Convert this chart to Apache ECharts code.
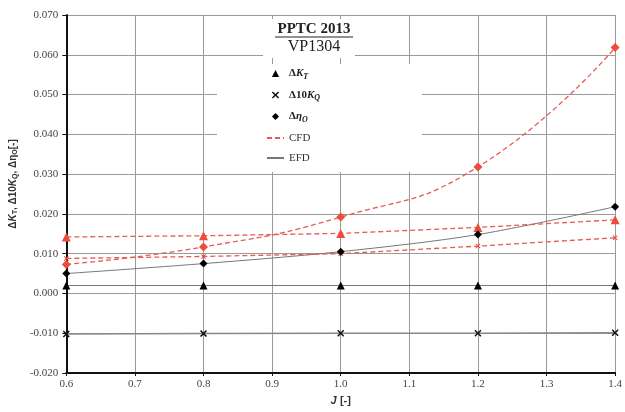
<!DOCTYPE html>
<html>
<head>
<meta charset="utf-8">
<script src="https://cdn.jsdelivr.net/npm/echarts@6/dist/echarts.min.js"></script>
<style>html,body{margin:0;padding:0;background:#fff}#c{width:625px;height:412px}</style>
</head>
<body>
<div id="c"></div>
<script>
// ---- data ----
var J = [0.6, 0.8, 1.0, 1.2, 1.4];
var efdKT  = [0.0020, 0.0020, 0.0020, 0.0020, 0.0020];
var efdKQ  = [-0.0102, -0.0101, -0.0100, -0.0100, -0.0099];
var efdEta = [0.0050, 0.0075, 0.0105, 0.0148, 0.0218];
var cfdKT  = [0.0142, 0.0145, 0.0151, 0.0166, 0.0185];
var cfdKQ  = [0.0088, 0.0093, 0.0100, 0.0119, 0.0140];
var cfdEta = [0.0073, 0.0117, 0.0192, 0.0318, 0.0618];
var xTicks = [0.6, 0.7, 0.8, 0.9, 1.0, 1.1, 1.2, 1.3, 1.4];
var yTicks = [-0.020, -0.010, 0.000, 0.010, 0.020, 0.030, 0.040, 0.050, 0.060, 0.070];
var legendNames = ['ΔKT', 'Δ10KQ', 'Δη0', 'CFD', 'EFD'];

function pairs(ys) { return J.map(function (x, i) { return [x, ys[i]]; }); }

var RED = '#ee4b3b';
var REDLINE = '#e85a55';
var XSYM = 'path://M0,1.5 L1.5,0 L5,3.5 L8.5,0 L10,1.5 L6.5,5 L10,8.5 L8.5,10 L5,6.5 L1.5,10 L0,8.5 L3.5,5 Z';

var chart = echarts.init(document.getElementById('c'), null, {renderer: 'canvas'});

var serif = '"Liberation Serif", "DejaVu Serif", serif';
var sans = '"Liberation Sans", Arial, sans-serif';

var richLegend = {
  n: {fontFamily: serif, fontWeight: 'bold', fontSize: 11, color: '#222'},
  i: {fontFamily: serif, fontWeight: 'bold', fontStyle: 'italic', fontSize: 11, color: '#222'},
  s: {fontFamily: serif, fontWeight: 'bold', fontStyle: 'italic', fontSize: 8, color: '#222', padding: [6, 0, 0, 0]},
  r: {fontFamily: serif, fontSize: 11, color: '#333'}
};
var legendFmt = {
  'ΔKT': '{n|Δ}{i|K}{s|T}',
  'Δ10KQ': '{n|Δ10}{i|K}{s|Q}',
  'Δη0': '{n|Δ}{i|η}{s|O}',
  'CFD': '{r|CFD}',
  'EFD': '{r|EFD}'
};

function markerSeries(name, ys, symbol, size, color) {
  return {name: name, type: 'line', data: pairs(ys), symbol: symbol, symbolSize: size, showSymbol: true,
    showAllSymbol: true, z: 6, lineStyle: {opacity: 0, width: 0}, itemStyle: {color: color}};
}

var option = {
  animation: false,
  backgroundColor: '#fff',
  grid: {left: 63, right: 7, top: 15, bottom: 36},
  xAxis: {
    type: 'value', min: 0.6, max: 1.4, interval: 0.1,
    name: '{j|J} {b|[-]}', nameLocation: 'middle', nameGap: 22,
    nameTextStyle: {rich: {
      j: {fontFamily: sans, fontWeight: 'bold', fontStyle: 'italic', fontSize: 11, color: '#333'},
      b: {fontFamily: sans, fontWeight: 'bold', fontSize: 11, color: '#333'}
    }},
    axisLine: {show: true, onZero: false, lineStyle: {color: '#111', width: 2}},
    axisTick: {show: true, length: 3, lineStyle: {color: '#111'}},
    axisLabel: {fontFamily: serif, fontSize: 11, color: '#444', margin: 6,
      formatter: function (v) { return v.toFixed(1); }},
    splitLine: {show: true, lineStyle: {color: '#9a9a9a', width: 1}}
  },
  yAxis: {
    type: 'value', min: -0.02, max: 0.07, interval: 0.01,
    name: '{n|Δ}{i|K}{s|T}{n|, Δ10}{i|K}{s|Q}{n|, Δη}{s|O}{n|[-]}',
    nameLocation: 'middle', nameRotate: 90, nameGap: 44,
    nameTextStyle: {padding: [0, 0, 0, 20], rich: {
      n: {fontFamily: sans, fontWeight: 'bold', fontSize: 10, color: '#333'},
      i: {fontFamily: sans, fontWeight: 'bold', fontStyle: 'italic', fontSize: 10, color: '#333'},
      s: {fontFamily: sans, fontWeight: 'bold', fontSize: 7, color: '#333', padding: [5, 0, 0, 0]}
    }},
    axisLine: {show: true, onZero: false, lineStyle: {color: '#111', width: 2}},
    axisTick: {show: true, length: 4, lineStyle: {color: '#111'}},
    axisLabel: {fontFamily: serif, fontSize: 11, color: '#444', margin: 8,
      formatter: function (v) { return v.toFixed(3); }},
    splitLine: {show: true, lineStyle: {color: '#9a9a9a', width: 1}}
  },
  legend: {
    data: [
      {name: 'ΔKT'}, {name: 'Δ10KQ'}, {name: 'Δη0'},
      {name: 'CFD', itemStyle: {opacity: 0}},
      {name: 'EFD', itemStyle: {opacity: 0}}
    ],
    orient: 'vertical', left: 261, top: 63,
    itemWidth: 17, itemHeight: 9, itemGap: 9,
    z: 20,
    formatter: function (name) { return legendFmt[name]; },
    textStyle: {rich: richLegend, padding: [0, 0, 0, 0]},
    selectedMode: false
  },
  graphic: [
    {type: 'rect', z: 1, shape: {x: 263, y: 19, width: 92, height: 39}, style: {fill: '#fff'}},
    {type: 'rect', z: 1, shape: {x: 217, y: 64, width: 205, height: 108}, style: {fill: '#fff'}},
    {type: 'text', z: 30, style: {text: 'PPTC 2013', x: 314, y: 29, align: 'center', verticalAlign: 'middle',
      font: 'bold 15px "Liberation Serif", serif', fill: '#222'}},
    {type: 'line', z: 30, shape: {x1: 275, y1: 37, x2: 353, y2: 37}, style: {stroke: '#222', lineWidth: 1.2}},
    {type: 'text', z: 30, style: {text: 'VP1304', x: 314, y: 47, align: 'center', verticalAlign: 'middle',
      font: '16px "Liberation Serif", serif', fill: '#222'}}
  ],
  series: [
    // EFD lines (grey)
    {name: 'EFD', type: 'line', data: pairs(efdKT), symbol: 'none', z: 3,
      lineStyle: {color: '#777', width: 1}, itemStyle: {color: '#777'}},
    {name: 'EFD', type: 'line', data: pairs(efdKQ), symbol: 'none', z: 3,
      lineStyle: {color: '#888', width: 1.5}, itemStyle: {color: '#777'}},
    {name: 'EFD', type: 'line', data: pairs(efdEta), symbol: 'none', smooth: 0.3, z: 3,
      lineStyle: {color: '#777', width: 1}, itemStyle: {color: '#777'}},
    // CFD lines (red dashed)
    {name: 'CFD', type: 'line', data: pairs(cfdKT), symbol: 'none', z: 4,
      lineStyle: {color: REDLINE, width: 1.3, type: [5, 3]}, itemStyle: {color: REDLINE}},
    {name: 'CFD', type: 'line', data: pairs(cfdKQ), symbol: 'none', z: 4,
      lineStyle: {color: REDLINE, width: 1.3, type: [5, 3]}, itemStyle: {color: REDLINE}},
    {name: 'CFD', type: 'line', data: pairs(cfdEta), symbol: 'none', smooth: 0.5, z: 4,
      lineStyle: {color: REDLINE, width: 1.3, type: [5, 3]}, itemStyle: {color: REDLINE}},
    // CFD markers (red)
    markerSeries('cfdKTpts', cfdKT, 'triangle', 9, RED),
    markerSeries('cfdKQpts', cfdKQ, XSYM, 5, RED),
    markerSeries('cfdEtaPts', cfdEta, 'diamond', 9, RED),
    // EFD markers (black)
    markerSeries('ΔKT', efdKT, 'triangle', 8, '#000'),
    markerSeries('Δ10KQ', efdKQ, XSYM, 7, '#111'),
    markerSeries('Δη0', efdEta, 'diamond', 8, '#000')
  ]
};
chart.setOption(option);
</script>
</body>
</html>
